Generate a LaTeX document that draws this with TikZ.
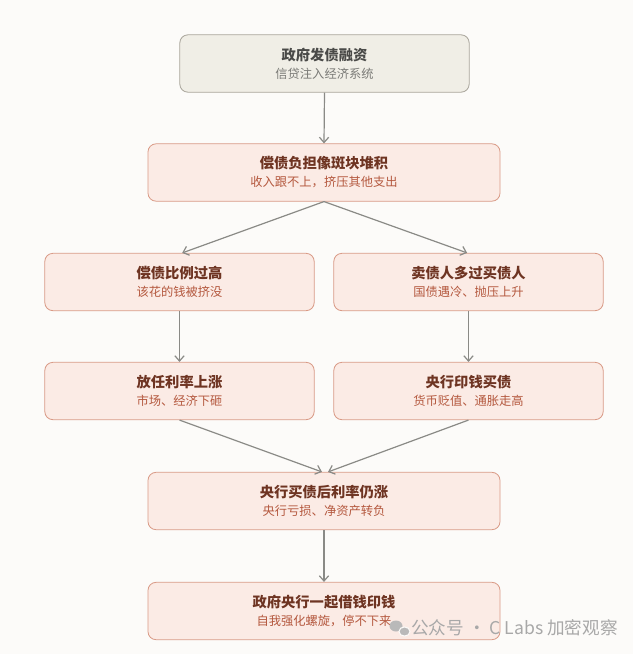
\documentclass[tikz,border=0pt]{standalone}
\usepackage{fontspec}
\setmainfont{Noto Sans CJK SC}
\usepackage{xcolor}
\usetikzlibrary{arrows.meta,positioning,backgrounds}
\definecolor{pagebg}{HTML}{FCFBF9}
\definecolor{topfill}{HTML}{F0EEE6}
\definecolor{topline}{HTML}{A9A59B}
\definecolor{toptitle}{HTML}{4A4A48}
\definecolor{topsub}{HTML}{7A7A76}
\definecolor{pinkfill}{HTML}{FBEBE5}
\definecolor{pinkline}{HTML}{D99A86}
\definecolor{pinktitle}{HTML}{6E3422}
\definecolor{pinksub}{HTML}{B4583E}
\definecolor{arrowgray}{HTML}{8A8A86}
\definecolor{markgray}{HTML}{A8A8A8}

\newcommand{\boxlines}[3]{{\fontsize{10.7}{14}\selectfont\bfseries\color{#1}#2}\\[1.5pt]{\fontsize{9.2}{12}\selectfont\color{#1sub}#3}}

\begin{document}
\begin{tikzpicture}[x=0.75pt,y=-0.75pt,
    box/.style={draw=pinkline,fill=pinkfill,rounded corners=6pt,line width=0.6pt,
      align=center,inner sep=0pt,minimum height=43pt},
    widebox/.style={box,minimum width=264pt},
    halfbox/.style={box,minimum width=202pt},
    topbox/.style={box,draw=topline,fill=topfill,minimum width=217pt},
    flow/.style={draw=arrowgray,line width=0.9pt,-{Straight Barb[length=4pt,width=7pt]}}]
  \definecolor{pinktitlesub}{HTML}{B4583E}
  \definecolor{toptitlesub}{HTML}{7A7A76}
  \fill[pagebg] (0,0) rectangle (633,654);
  \useasboundingbox (0,0) rectangle (633,654);

  % top of the chain
  \node[topbox] (issue) at (324.5,63.5) {\boxlines{toptitle}{政府发债融资}{信贷注入经济系统}};
  \node[widebox] (burden) at (324,172.5) {\boxlines{pinktitle}{偿债负担像斑块堆积}{收入跟不上，挤压其他支出}};

  % two branches
  \node[halfbox] (ratio) at (179.5,282) {\boxlines{pinktitle}{偿债比例过高}{该花的钱被挤没}};
  \node[halfbox] (sellers) at (468.5,282) {\boxlines{pinktitle}{卖债人多过买债人}{国债遇冷、抛压上升}};
  \node[halfbox] (letrise) at (179.5,391) {\boxlines{pinktitle}{放任利率上涨}{市场、经济下砸}};
  \node[halfbox] (print) at (468.5,391) {\boxlines{pinktitle}{央行印钱买债}{货币贬值、通胀走高}};

  % back together
  \node[widebox] (still) at (324,501) {\boxlines{pinktitle}{央行买债后利率仍涨}{央行亏损、净资产转负}};
  \node[widebox] (loop) at (324,611) {\boxlines{pinktitle}{政府央行一起借钱印钱}{自我强化螺旋，停不下来}};

  \draw[flow] (issue.south) -- (burden.north);
  \draw[flow] (burden.south) -- ([xshift=2pt]ratio.north);
  \draw[flow] (burden.south) -- ([xshift=-1pt]sellers.north);
  \draw[flow] (ratio.south) -- (letrise.north);
  \draw[flow] (sellers.south) -- (print.north);
  \draw[flow] (letrise.south) -- ([xshift=-1.5pt]still.north);
  \draw[flow] (print.south) -- ([xshift=3pt]still.north);
  \draw[flow] (still.south) -- (loop.north);

  % watermark
  \fill[markgray!80] (396,626) ellipse (6.5 and 5.5);
  \fill[markgray!80,draw=pagebg,line width=0.8pt] (404.5,631.5) ellipse (5.5 and 4.6);
  \node[anchor=west,text=markgray,font=\fontsize{13.2}{15}\selectfont,inner sep=0pt] (mark) at (411,628) {公众号~·~C Labs 加密观察};
\end{tikzpicture}
\end{document}
